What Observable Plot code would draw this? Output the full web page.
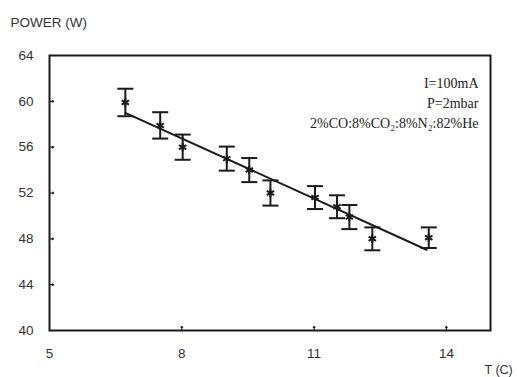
<!DOCTYPE html>
<html>
<head>
<meta charset="utf-8">
<script src="https://cdn.jsdelivr.net/npm/d3@7"></script>
<script src="https://cdn.jsdelivr.net/npm/@observablehq/plot@0.6"></script>
<style>
  html, body { margin: 0; padding: 0; background: #fff; }
</style>
</head>
<body>
<div id="chart"></div>
<script>
// Data
const temperature = [6.72, 7.51, 8.02, 9.02, 9.53, 10.01, 11.02, 11.52, 11.80, 12.32, 13.60];
const power       = [59.9, 57.9, 56.0, 55.0, 54.0, 52.0, 51.6, 50.8, 49.9, 48.0, 48.1];
const errorHalf   = [1.2, 1.15, 1.1, 1.05, 1.05, 1.1, 1.0, 1.0, 1.05, 1.0, 0.9];
const fitT        = [6.72, 13.55];
const fitPower    = [59.0, 47.05];
const xTicks      = [5, 8, 11, 14];
const yTicks      = [40, 44, 48, 52, 56, 60, 64];
const yLabel      = "POWER (W)";
const xLabel      = "T (C)";
const annotation  = ["I=100mA", "P=2mbar", "2%CO:8%CO\u2082:8%N\u2082:82%He"];

const points = temperature.map((t, i) => ({t, p: power[i], lo: power[i] - errorHalf[i], hi: power[i] + errorHalf[i]}));
const fit = fitT.map((t, i) => ({t, p: fitPower[i]}));

const capSymbol = {
  draw(context, size) {
    const w = Math.sqrt(size / Math.PI);
    context.moveTo(-w, 0);
    context.lineTo(w, 0);
  }
};

const ink = "#1a1a1a";
const sans = "Liberation Sans, Arial, sans-serif";

const chart = Plot.plot({
  width: 517,
  height: 377,
  marginLeft: 49,
  marginRight: 27,
  marginTop: 55,
  marginBottom: 47,
  style: {fontFamily: sans, background: "#fff", color: "#333"},
  x: {domain: [5, 15], label: null},
  y: {domain: [40, 64], label: null},
  marks: [
    Plot.axisX({ticks: xTicks, tickSize: 0, tickPadding: 18, fontSize: 13.5, fill: "#333", label: null}),
    Plot.axisY({ticks: yTicks, tickSize: 0, tickPadding: 16, fontSize: 13.5, fill: "#333", label: null}),
    Plot.vector(xTicks.slice(1), {x: d => d, y: 40, length: 4, rotate: 0, anchor: "start", stroke: ink, strokeWidth: 1.2}),
    Plot.vector(yTicks.slice(1, -1), {x: 5, y: d => d, length: 4, rotate: 90, anchor: "start", stroke: ink, strokeWidth: 1.2}),
    Plot.line(fit, {x: "t", y: "p", stroke: ink, strokeWidth: 2}),
    Plot.ruleX(points, {x: "t", y1: "lo", y2: "hi", stroke: ink, strokeWidth: 2}),
    Plot.dot(points, {x: "t", y: "lo", symbol: capSymbol, r: 8, stroke: ink, strokeWidth: 2}),
    Plot.dot(points, {x: "t", y: "hi", symbol: capSymbol, r: 8, stroke: ink, strokeWidth: 2}),
    Plot.dot(points, {x: "t", y: "p", symbol: "asterisk", r: 4, stroke: ink, strokeWidth: 2}),
    Plot.frame({stroke: ink, strokeWidth: 2}),
    Plot.text([annotation.join("\n")], {
      frameAnchor: "top-right", textAnchor: "end", lineAnchor: "top",
      dx: -12, dy: 19, lineHeight: 1.4, fontSize: 14,
      fontFamily: "Liberation Serif, Times New Roman, serif", fill: "#222"
    }),
    Plot.text([yLabel], {
      frameAnchor: "top-left", textAnchor: "start", lineAnchor: "middle",
      dx: -39, dy: -33, fontSize: 13.5, fill: "#333"
    }),
    Plot.text([xLabel], {
      frameAnchor: "bottom-right", textAnchor: "start", lineAnchor: "middle",
      dx: -6, dy: 39, fontSize: 12.5, fill: "#333"
    })
  ]
});
document.getElementById("chart").appendChild(chart);
</script>
</body>
</html>
